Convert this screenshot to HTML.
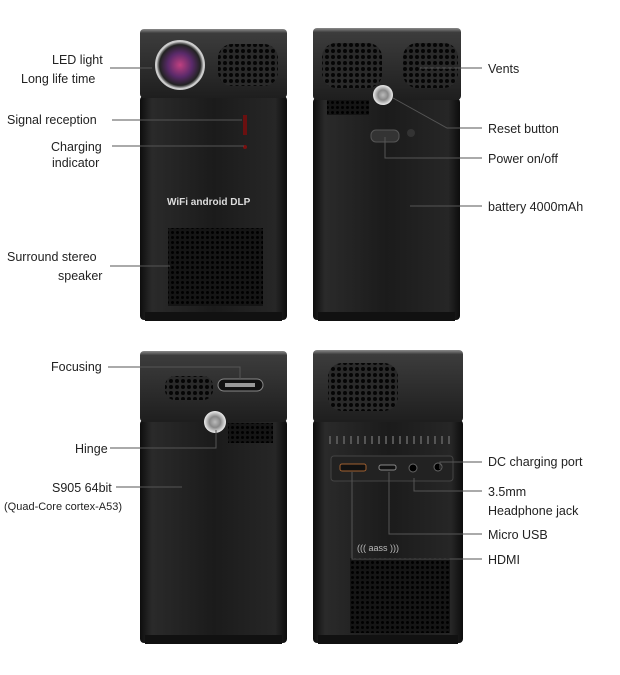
<!DOCTYPE html>
<html><head><meta charset="utf-8"><style>
html,body{margin:0;padding:0;background:#fff}
svg{display:block}
text{font-family:"Liberation Sans",sans-serif;font-size:12.5px;fill:#222}
</style></head><body>
<svg width="620" height="675" viewBox="0 0 620 675" xmlns="http://www.w3.org/2000/svg">
<defs>
<linearGradient id="body" x1="0" x2="1" y1="0" y2="0">
<stop offset="0" stop-color="#0d0d0d"/><stop offset="0.08" stop-color="#2a2a2a"/><stop offset="0.5" stop-color="#1b1b1b"/><stop offset="0.92" stop-color="#262626"/><stop offset="1" stop-color="#0d0d0d"/>
</linearGradient>
<linearGradient id="cap" x1="0" x2="0" y1="0" y2="1">
<stop offset="0" stop-color="#8a8a8a"/><stop offset="0.06" stop-color="#3c3c3c"/><stop offset="0.5" stop-color="#2e2e2e"/><stop offset="1" stop-color="#1e1e1e"/>
</linearGradient>
<pattern id="dots" width="5" height="5" patternUnits="userSpaceOnUse"><rect width="5" height="5" fill="#151515"/><circle cx="2.5" cy="2.5" r="1.5" fill="#000"/></pattern>
<pattern id="vdots" width="6" height="6" patternUnits="userSpaceOnUse"><rect width="6" height="6" fill="#2a2a2a"/><circle cx="3" cy="3" r="2" fill="#050505"/></pattern>
<radialGradient id="lens"><stop offset="0" stop-color="#c04080"/><stop offset="0.5" stop-color="#5a2a6a"/><stop offset="0.85" stop-color="#222"/><stop offset="1" stop-color="#ddd"/></radialGradient>
<radialGradient id="knob"><stop offset="0" stop-color="#bbb"/><stop offset="0.5" stop-color="#888"/><stop offset="1" stop-color="#eee"/></radialGradient>
</defs>

<rect x="140" y="96" width="147" height="224" rx="4" fill="url(#body)"/>
<rect x="145" y="312" width="137" height="9" fill="#111"/>
<rect x="140" y="29" width="147" height="69" rx="4" fill="url(#cap)"/>
<circle cx="180" cy="65" r="24" fill="url(#lens)"/>
<circle cx="180" cy="65" r="24" fill="none" stroke="#ccc" stroke-width="2"/>
<rect x="218" y="44" width="60" height="42" rx="14" fill="url(#vdots)"/>
<rect x="243" y="115" width="4" height="20" fill="#6a1010"/>
<circle cx="245" cy="147" r="2" fill="#7a1010"/>
<text x="167" y="205" style="font-size:10px;fill:#ddd;font-weight:bold">WiFi  android  DLP</text>
<rect x="168" y="228" width="95" height="78" fill="url(#dots)"/>

<rect x="313" y="98" width="147" height="222" rx="4" fill="url(#body)"/>
<rect x="318" y="312" width="137" height="9" fill="#111"/>
<rect x="313" y="28" width="148" height="72" rx="4" fill="url(#cap)"/>
<rect x="322" y="43" width="60" height="45" rx="14" fill="url(#vdots)"/>
<rect x="403" y="43" width="55" height="45" rx="14" fill="url(#vdots)"/>
<rect x="327" y="100" width="42" height="15" fill="url(#dots)"/>
<circle cx="383" cy="95" r="10" fill="url(#knob)"/>
<rect x="371" y="130" width="28" height="12" rx="5" fill="#333" stroke="#555"/>
<circle cx="411" cy="133" r="4" fill="#333"/>

<rect x="140" y="420" width="147" height="223" rx="4" fill="url(#body)"/>
<rect x="145" y="635" width="137" height="9" fill="#111"/>
<rect x="140" y="351" width="147" height="71" rx="4" fill="url(#cap)"/>
<rect x="165" y="376" width="48" height="24" rx="10" fill="url(#vdots)"/>
<rect x="218" y="379" width="45" height="12" rx="6" fill="#111" stroke="#888"/>
<rect x="225" y="383" width="30" height="4" fill="#999"/>
<rect x="228" y="423" width="45" height="20" fill="url(#dots)"/>
<circle cx="215" cy="422" r="11" fill="url(#knob)"/>

<rect x="313" y="420" width="150" height="223" rx="4" fill="url(#body)"/>
<rect x="318" y="635" width="140" height="9" fill="#111"/>
<rect x="313" y="350" width="150" height="72" rx="4" fill="url(#cap)"/>
<rect x="328" y="363" width="70" height="48" rx="14" fill="url(#vdots)"/>
<g stroke="#555" stroke-width="2">
<path d="M330 436v8M337 436v8M344 436v8M351 436v8M358 436v8M365 436v8M372 436v8M379 436v8M386 436v8M393 436v8M400 436v8M407 436v8M414 436v8M421 436v8M428 436v8M435 436v8M442 436v8M449 436v8"/>
</g>
<rect x="331" y="456" width="122" height="25" rx="3" fill="#222" stroke="#444"/>
<rect x="340" y="464" width="26" height="7" rx="2" fill="#111" stroke="#a06030"/>
<rect x="379" y="465" width="17" height="5" rx="2" fill="#111" stroke="#888"/>
<circle cx="413" cy="468" r="4" fill="#000" stroke="#666"/>
<circle cx="438" cy="467" r="4" fill="#000" stroke="#666"/>
<text x="357" y="551" style="font-size:9px;fill:#bbb">((( aass )))</text>
<rect x="350" y="558" width="100" height="75" fill="url(#dots)"/>

<g stroke="#555" stroke-width="1" fill="none">
<path d="M110 68H152"/>
<path d="M112 120H242"/>
<path d="M112 146H244"/>
<path d="M110 266H170"/>
<path d="M420 68H482"/>
<path d="M393 98L447 128H482"/>
<path d="M385 137V158H482"/>
<path d="M410 206H482"/>
<path d="M108 367H240V379"/>
<path d="M110 448H216V430"/>
<path d="M116 487H182"/>
<path d="M440 469V462H482"/>
<path d="M414 478V491H482"/>
<path d="M389 472V534H482"/>
<path d="M352 472V559H482"/>
</g>

<text x="52" y="64">LED light</text>
<text x="21" y="83">Long life time</text>
<text x="7" y="124">Signal reception</text>
<text x="51" y="151">Charging</text>
<text x="52" y="167">indicator</text>
<text x="7" y="261">Surround stereo</text>
<text x="58" y="280">speaker</text>
<text x="488" y="73">Vents</text>
<text x="488" y="133">Reset button</text>
<text x="488" y="163">Power on/off</text>
<text x="488" y="211">battery 4000mAh</text>
<text x="51" y="371">Focusing</text>
<text x="75" y="453">Hinge</text>
<text x="52" y="492">S905 64bit</text>
<text x="4" y="510" style="font-size:11px">(Quad-Core cortex-A53)</text>
<text x="488" y="466">DC charging port</text>
<text x="488" y="496">3.5mm</text>
<text x="488" y="515">Headphone jack</text>
<text x="488" y="539">Micro USB</text>
<text x="488" y="564">HDMI</text>
</svg>
</body></html>
